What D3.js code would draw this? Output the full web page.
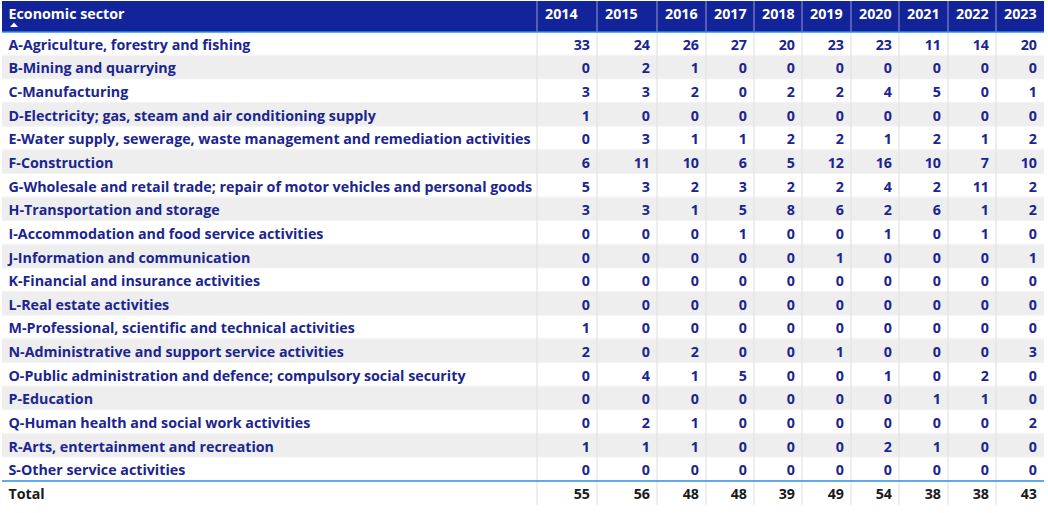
<!DOCTYPE html>
<html>
<head>
<meta charset="utf-8">
<script src="https://cdn.jsdelivr.net/npm/d3@7"></script>
<style>
  html, body { margin: 0; padding: 0; background: #ffffff; }
  svg { display: block; }
  text { font-family: "Open Sans", "Noto Sans", sans-serif; font-weight: 700; }
</style>
</head>
<body>
<svg id="chart" width="1048" height="513"></svg>
<script>
const headerLabel = "Economic sector";
const years = ["2014","2015","2016","2017","2018","2019","2020","2021","2022","2023"];
const sectors = [
  "A-Agriculture, forestry and fishing",
  "B-Mining and quarrying",
  "C-Manufacturing",
  "D-Electricity; gas, steam and air conditioning supply",
  "E-Water supply, sewerage, waste management and remediation activities",
  "F-Construction",
  "G-Wholesale and retail trade; repair of motor vehicles and personal goods",
  "H-Transportation and storage",
  "I-Accommodation and food service activities",
  "J-Information and communication",
  "K-Financial and insurance activities",
  "L-Real estate activities",
  "M-Professional, scientific and technical activities",
  "N-Administrative and support service activities",
  "O-Public administration and defence; compulsory social security",
  "P-Education",
  "Q-Human health and social work activities",
  "R-Arts, entertainment and recreation",
  "S-Other service activities"
];
const values = [
  [33,24,26,27,20,23,23,11,14,20],
  [0,2,1,0,0,0,0,0,0,0],
  [3,3,2,0,2,2,4,5,0,1],
  [1,0,0,0,0,0,0,0,0,0],
  [0,3,1,1,2,2,1,2,1,2],
  [6,11,10,6,5,12,16,10,7,10],
  [5,3,2,3,2,2,4,2,11,2],
  [3,3,1,5,8,6,2,6,1,2],
  [0,0,0,1,0,0,1,0,1,0],
  [0,0,0,0,0,1,0,0,0,1],
  [0,0,0,0,0,0,0,0,0,0],
  [0,0,0,0,0,0,0,0,0,0],
  [1,0,0,0,0,0,0,0,0,0],
  [2,0,2,0,0,1,0,0,0,3],
  [0,4,1,5,0,0,1,0,2,0],
  [0,0,0,0,0,0,0,1,1,0],
  [0,2,1,0,0,0,0,0,0,2],
  [1,1,1,0,0,0,2,1,0,0],
  [0,0,0,0,0,0,0,0,0,0]
];
const totalLabel = "Total";
const totals = [55,56,48,48,39,49,54,38,38,43];

// ---------- layout ----------
const svg = d3.select("#chart");
const tableLeft = 2, tableRight = 1044;
const firstColRight = 537;
const headerTop = 1, headerBottom = 32;
const bodyBottom = 481;
const totalBottom = 505;
const fs = 14.25;

// year column edges (Power BI auto-fit widths)
const colWeights = [60,60,49,48,48,49,48,49,48,48];
const colX = d3.scaleLinear().domain([0, d3.sum(colWeights)]).range([firstColRight, tableRight]);
const cum = [0]; colWeights.forEach((w,i)=>cum.push(cum[i]+w));
const colLeft = i => colX(cum[i]);
const colRight = i => colX(cum[i+1]);

const y = d3.scaleBand().domain(d3.range(sectors.length)).range([headerBottom, bodyBottom]).paddingInner(0);

const navy = "#13239A";
const textBlue = "#1B2590";
const gridGray = "#E3E3E3";
const stripe = "#EEEEEE";
const accent = "#2D8FEA";

// header
svg.append("rect").attr("x", tableLeft).attr("y", headerTop)
  .attr("width", tableRight - tableLeft).attr("height", headerBottom - headerTop).attr("fill", navy);
svg.append("text").attr("x", 8.5).attr("y", 19).attr("fill", "#ffffff").attr("font-size", fs).text(headerLabel);
// sort arrow
svg.append("path").attr("d", "M10,27 L14,22.5 L18,27 Z").attr("fill", "#ffffff");
// header separators
[firstColRight].concat(years.map((_,i)=>colRight(i)).slice(0,-1)).forEach(x=>{
  svg.append("line").attr("x1", x).attr("x2", x).attr("y1", headerTop).attr("y2", headerBottom)
    .attr("stroke", "#8088C0").attr("stroke-width", 1.2);
});
svg.selectAll("text.yh").data(years).join("text").attr("class","yh")
  .attr("x", (d,i)=>colLeft(i)+8).attr("y", 19).attr("fill","#ffffff").attr("font-size",fs).text(d=>d);

// rows
const rows = svg.append("g");
rows.selectAll("rect.stripe").data(sectors).join("rect").attr("class","stripe")
  .attr("x", tableLeft).attr("y", (d,i)=>y(i)).attr("width", tableRight - tableLeft).attr("height", y.bandwidth())
  .attr("fill", (d,i)=> i%2===1 ? stripe : "#ffffff");
rows.selectAll("line.h").data(sectors).join("line").attr("class","h")
  .attr("x1", tableLeft).attr("x2", tableRight).attr("y1",(d,i)=>y(i)+y.bandwidth()-0.5).attr("y2",(d,i)=>y(i)+y.bandwidth()-0.5)
  .attr("stroke", "#F2F2F2").attr("stroke-width", 1);
// vertical grid
[firstColRight].concat(years.map((_,i)=>colRight(i)).slice(0,-1)).forEach(x=>{
  svg.append("line").attr("x1", x).attr("x2", x).attr("y1", headerBottom).attr("y2", totalBottom)
    .attr("stroke", gridGray).attr("stroke-width", 1.2);
});
rows.selectAll("text.lab").data(sectors).join("text").attr("class","lab")
  .attr("x", 8.5).attr("y", (d,i)=>y(i)+y.bandwidth()/2+6).attr("fill", textBlue).attr("font-size",fs).text(d=>d);
values.forEach((row, r)=>{
  rows.selectAll("text.v"+r).data(row).join("text").attr("class","v"+r)
    .attr("x",(d,i)=>colRight(i)-7).attr("y", y(r)+y.bandwidth()/2+6).attr("text-anchor","end")
    .attr("fill", textBlue).attr("font-size",fs).text(d=>d);
});

// header bottom accent & total line
svg.append("line").attr("x1", tableLeft).attr("x2", tableRight).attr("y1", headerBottom).attr("y2", headerBottom)
  .attr("stroke", accent).attr("stroke-width", 1.5);
svg.append("line").attr("x1", tableLeft).attr("x2", tableRight).attr("y1", bodyBottom).attr("y2", bodyBottom)
  .attr("stroke", accent).attr("stroke-width", 1.5);

// total
const totY = (bodyBottom + totalBottom)/2 + 6;
svg.append("text").attr("x", 8.5).attr("y", totY).attr("fill", "#1a1a1a").attr("font-size",fs).text(totalLabel);
svg.selectAll("text.tot").data(totals).join("text").attr("class","tot")
  .attr("x",(d,i)=>colRight(i)-7).attr("y", totY).attr("text-anchor","end")
  .attr("fill","#1a1a1a").attr("font-size",fs).text(d=>d);
</script>
</body>
</html>
